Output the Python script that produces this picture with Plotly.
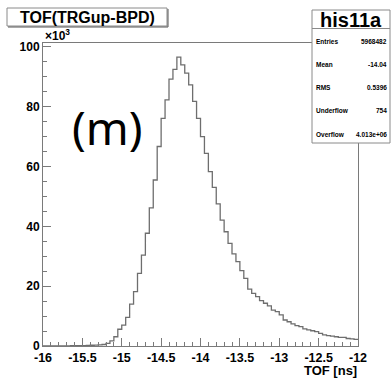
import numpy as np
import plotly.graph_objects as go

# ---- data (counts in units of 10^3 per 0.05 ns bin) ----
x_min, x_max, n_bins = -16.0, -12.0, 80
counts_k = [0.02, 0.02, 0.03, 0.03, 0.04, 0.05, 0.06, 0.08, 0.10, 0.12,
            0.15, 0.20, 0.25, 0.30, 0.40, 0.50, 0.9, 1.7, 3.1, 5.6,
            7.0, 9.6, 14.0, 18.2, 24.3, 30.4, 37.7, 46.2, 55.5, 66.7,
            76.1, 82.3, 89.2, 92.5, 96.6, 94.0, 91.2, 87.3, 81.8, 76.1,
            70.0, 64.4, 58.3, 53.0, 47.5, 42.1, 38.2, 34.3, 30.8, 28.2,
            25.2, 22.6, 19.0, 17.6, 16.5, 15.2, 14.3, 13.4, 12.0, 11.5,
            10.4, 8.7, 8.1, 7.4, 6.8, 6.5, 5.7, 5.4, 5.1, 4.8,
            4.2, 3.7, 3.5, 3.3, 3.1, 2.9, 2.9, 2.5, 2.4, 2.2]
x_tickvals = [-16, -15.5, -15, -14.5, -14, -13.5, -13, -12.5, -12]
x_ticktext = ["-16", "-15.5", "-15", "-14.5", "-14", "-13.5", "-13", "-12.5", "-12"]
y_tickvals = [0, 20, 40, 60, 80, 100]
y_ticktext = ["0", "20", "40", "60", "80", "100"]
stats_labels = ["Entries", "Mean", "RMS", "Underflow", "Overflow"]
stats_values = ["5968482", "-14.04", "0.5396", "754", "4.013e+06"]
hist_title = "TOF(TRGup-BPD)"
hist_name = "his11a"
x_title = "TOF [ns]"
panel_label = "(m)"

edges = np.linspace(x_min, x_max, n_bins + 1)
ys = list(counts_k) + [counts_k[-1]]

# ---- layout geometry (pixels) ----
W, H = 391, 379
L, R, T, B = 43, 33, 43, 33
PW, PH = W - L - R, H - T - B

def px(xp):
    return (xp - L) / PW

def py(yp):
    return (H - B - yp) / PH

fig = go.Figure()
fig.add_trace(go.Scatter(x=edges, y=ys, mode="lines", line_shape="hv",
                         line=dict(color="#6e6e6e", width=1.3),
                         hoverinfo="skip", showlegend=False))

axis_font = dict(family="Liberation Sans", size=12.5, color="black")
fig.update_xaxes(range=[x_min, x_max], showgrid=False, zeroline=False,
                 showline=True, linecolor="#7a7a7a", linewidth=1, mirror=True,
                 ticks="inside", ticklen=8, tickcolor="#7a7a7a",
                 tickvals=x_tickvals, ticktext=[f"<b>{t}</b>" for t in x_ticktext],
                 tickfont=axis_font,
                 minor=dict(ticks="inside", ticklen=4, dtick=0.1, tickcolor="#7a7a7a", showgrid=False))
fig.update_yaxes(range=[0, 101.3], showgrid=False, zeroline=False,
                 showline=True, linecolor="#7a7a7a", linewidth=1, mirror=True,
                 ticks="inside", ticklen=8, tickcolor="#7a7a7a",
                 tickvals=y_tickvals, ticktext=[f"<b>{t}</b>" for t in y_ticktext],
                 tickfont=dict(family="Liberation Sans", size=12, color="black"),
                 minor=dict(ticks="inside", ticklen=4, dtick=5, tickcolor="#7a7a7a", showgrid=False))

shapes = []
annos = []
# title box
shapes.append(dict(type="rect", xref="paper", yref="paper", x0=px(7), x1=px(167), y0=py(26), y1=py(8),
                   line=dict(color="#8a8a8a", width=1), fillcolor="white", layer="above"))
shapes.append(dict(type="line", xref="paper", yref="paper", x0=px(8), x1=px(168), y0=py(27), y1=py(27),
                   line=dict(color="#555", width=1), layer="above"))
shapes.append(dict(type="line", xref="paper", yref="paper", x0=px(168), x1=px(168), y0=py(9), y1=py(27),
                   line=dict(color="#555", width=1), layer="above"))
annos.append(dict(text=f"<b>{hist_title}</b>", xref="paper", yref="paper", x=px(87), y=py(17),
                  xanchor="center", yanchor="middle", showarrow=False,
                  font=dict(family="Liberation Sans", size=16, color="black")))
# stats box
shapes.append(dict(type="rect", xref="paper", yref="paper", x0=px(312), x1=px(390), y0=py(143), y1=py(10),
                   line=dict(color="#8a8a8a", width=1), fillcolor="white", layer="above"))
shapes.append(dict(type="line", xref="paper", yref="paper", x0=px(312), x1=px(390), y0=py(28.5), y1=py(28.5),
                   line=dict(color="#8a8a8a", width=1), layer="above"))
annos.append(dict(text=f"<b>{hist_name}</b>", xref="paper", yref="paper", x=px(351), y=py(19.5),
                  xanchor="center", yanchor="middle", showarrow=False,
                  font=dict(family="Liberation Sans", size=20, color="black")))
row_y = [41.7, 64.5, 87.5, 110.7, 134]
for lab, val, yy in zip(stats_labels, stats_values, row_y):
    annos.append(dict(text=f"<b>{lab}</b>", xref="paper", yref="paper", x=px(314), y=py(yy),
                      xanchor="left", yanchor="middle", showarrow=False,
                      font=dict(family="Liberation Sans", size=6.5, color="black")))
    annos.append(dict(text=f"<b>{val}</b>", xref="paper", yref="paper", x=px(389), y=py(yy),
                      xanchor="right", yanchor="middle", showarrow=False,
                      font=dict(family="Liberation Sans", size=6.5, color="black")))
# x10^3
annos.append(dict(text="<b>×10<sup>3</sup></b>", xref="paper", yref="paper", x=px(43), y=py(35),
                  xanchor="left", yanchor="middle", showarrow=False,
                  font=dict(family="Liberation Sans", size=12, color="black")))
# axis title
annos.append(dict(text=f"<b>{x_title}</b>", xref="paper", yref="paper", x=px(359), y=py(370),
                  xanchor="right", yanchor="middle", showarrow=False,
                  font=dict(family="Liberation Sans", size=13, color="black")))
# panel label
annos.append(dict(text=panel_label, xref="paper", yref="paper", x=px(107), y=py(127),
                  xanchor="center", yanchor="middle", showarrow=False,
                  font=dict(family="Noto Sans", size=46, color="black")))

fig.update_layout(width=W, height=H, margin=dict(l=L, r=R, t=T, b=B),
                  paper_bgcolor="white", plot_bgcolor="white",
                  shapes=shapes, annotations=annos, showlegend=False)
fig.write_html("out.html", config={"displayModeBar": False})
